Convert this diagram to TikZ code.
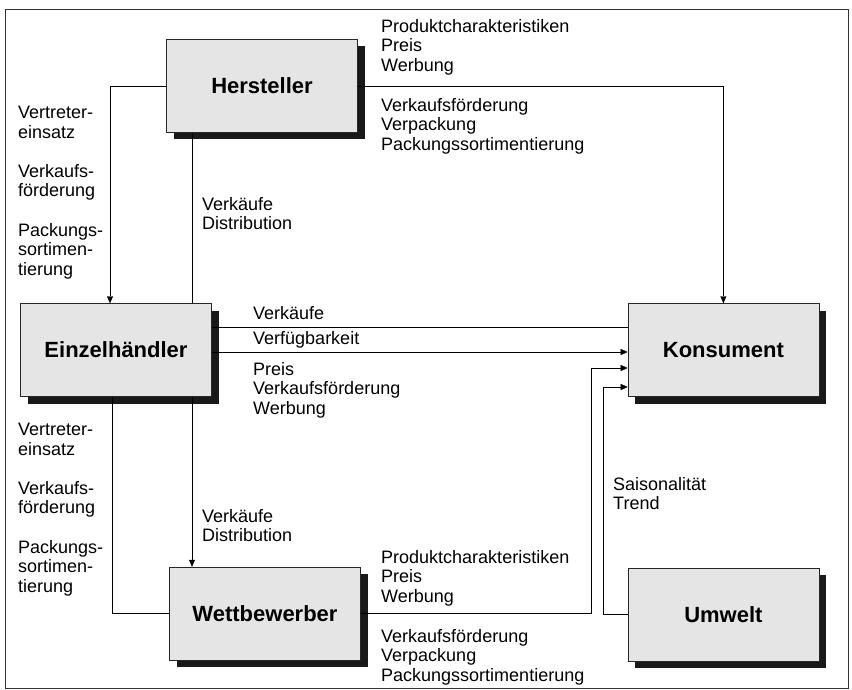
\documentclass[tikz,border=0pt]{standalone}
\usepackage{fontspec}
\setmainfont{Liberation Sans}
\usetikzlibrary{positioning, arrows.meta, shadows}
\tikzset{
x=1pt, y=-1pt, % pixel-like coordinates, y grows downwards
>={Triangle[length=7pt, width=6pt]}, % small filled arrow heads
line width=0.8pt,
box/.style={draw=black!85, fill=black!10, minimum width=191pt, minimum height=93pt, inner sep=0pt,
  font=\fontsize{22}{24}\selectfont\bfseries,
  general shadow={fill=black!90, shadow xshift=7pt, shadow yshift=-7pt}}, % hard shadow to the lower right
txt/.style={anchor=north west, inner sep=0pt, align=left, font=\fontsize{18}{19.6}\selectfont}, % the flow labels
}
\begin{document}
\begin{tikzpicture}
\useasboundingbox (0,0) rectangle (852,690);
\draw[black!80] (5,9) rectangle (848,688);

\node[box] (EH) at (116,350) {Einzelhändler};
\node[box] (H) at (262,86) {Hersteller};
\node[box] (W) at (265,613.5) {Wettbewerber};
\node[box, right=416pt of EH] (K) {Konsument};
\node[box, below=171pt of K] (U) {Umwelt};

\draw[->] (H.west) -| ([xshift=-6pt]EH.north);
\draw ([xshift=-70pt]H.south) -- ([xshift=76pt]EH.north);
\draw[->] ([xshift=76pt]EH.south) -- ([xshift=-73pt]W.north);
\draw ([xshift=-4pt]EH.south) |- (W.west);
\draw[->] (H.east) -| (K.north);
\draw ([yshift=22.5pt]EH.east) -- ([yshift=22.5pt]K.west);
\draw[->] ([yshift=-2pt]EH.east) -- ([yshift=-2pt]K.west);
\draw[->] (W.east) -- ++(230,0) |- ([yshift=-18pt]K.west);
\draw[->] (U.west) -- ++(-25,0) |- ([yshift=-37pt]K.west);

% labels
\node[txt] (hk1) at (381,19) {Produktcharakteristiken\\Preis\\Werbung};
\node[txt] (hk2) at (381,98) {Verkaufsförderung\\Verpackung\\Packungssortimentierung};
\node[txt] (he1) at (18,106) {Vertreter-\\einsatz\\[19.6pt]Verkaufs-\\förderung\\[19.6pt]Packungs-\\sortimen-\\tierung};
\node[txt] (he2) at (202,197) {Verkäufe\\Distribution};
\node[txt] (ek1) at (253,306) {Verkäufe};
\node[txt] (ek2) at (253,331) {Verfügbarkeit};
\node[txt] (ek3) at (253,362) {Preis\\Verkaufsförderung\\Werbung};
\node[txt] (ew1) at (18,423) {Vertreter-\\einsatz\\[19.6pt]Verkaufs-\\förderung\\[19.6pt]Packungs-\\sortimen-\\tierung};
\node[txt] (ew2) at (202,509) {Verkäufe\\Distribution};
\node[txt] (wk1) at (381,550) {Produktcharakteristiken\\Preis\\Werbung};
\node[txt] (wk2) at (381,629) {Verkaufsförderung\\Verpackung\\Packungssortimentierung};
\node[txt] (uk) at (613,477) {Saisonalität\\Trend};
\end{tikzpicture}
\end{document}
